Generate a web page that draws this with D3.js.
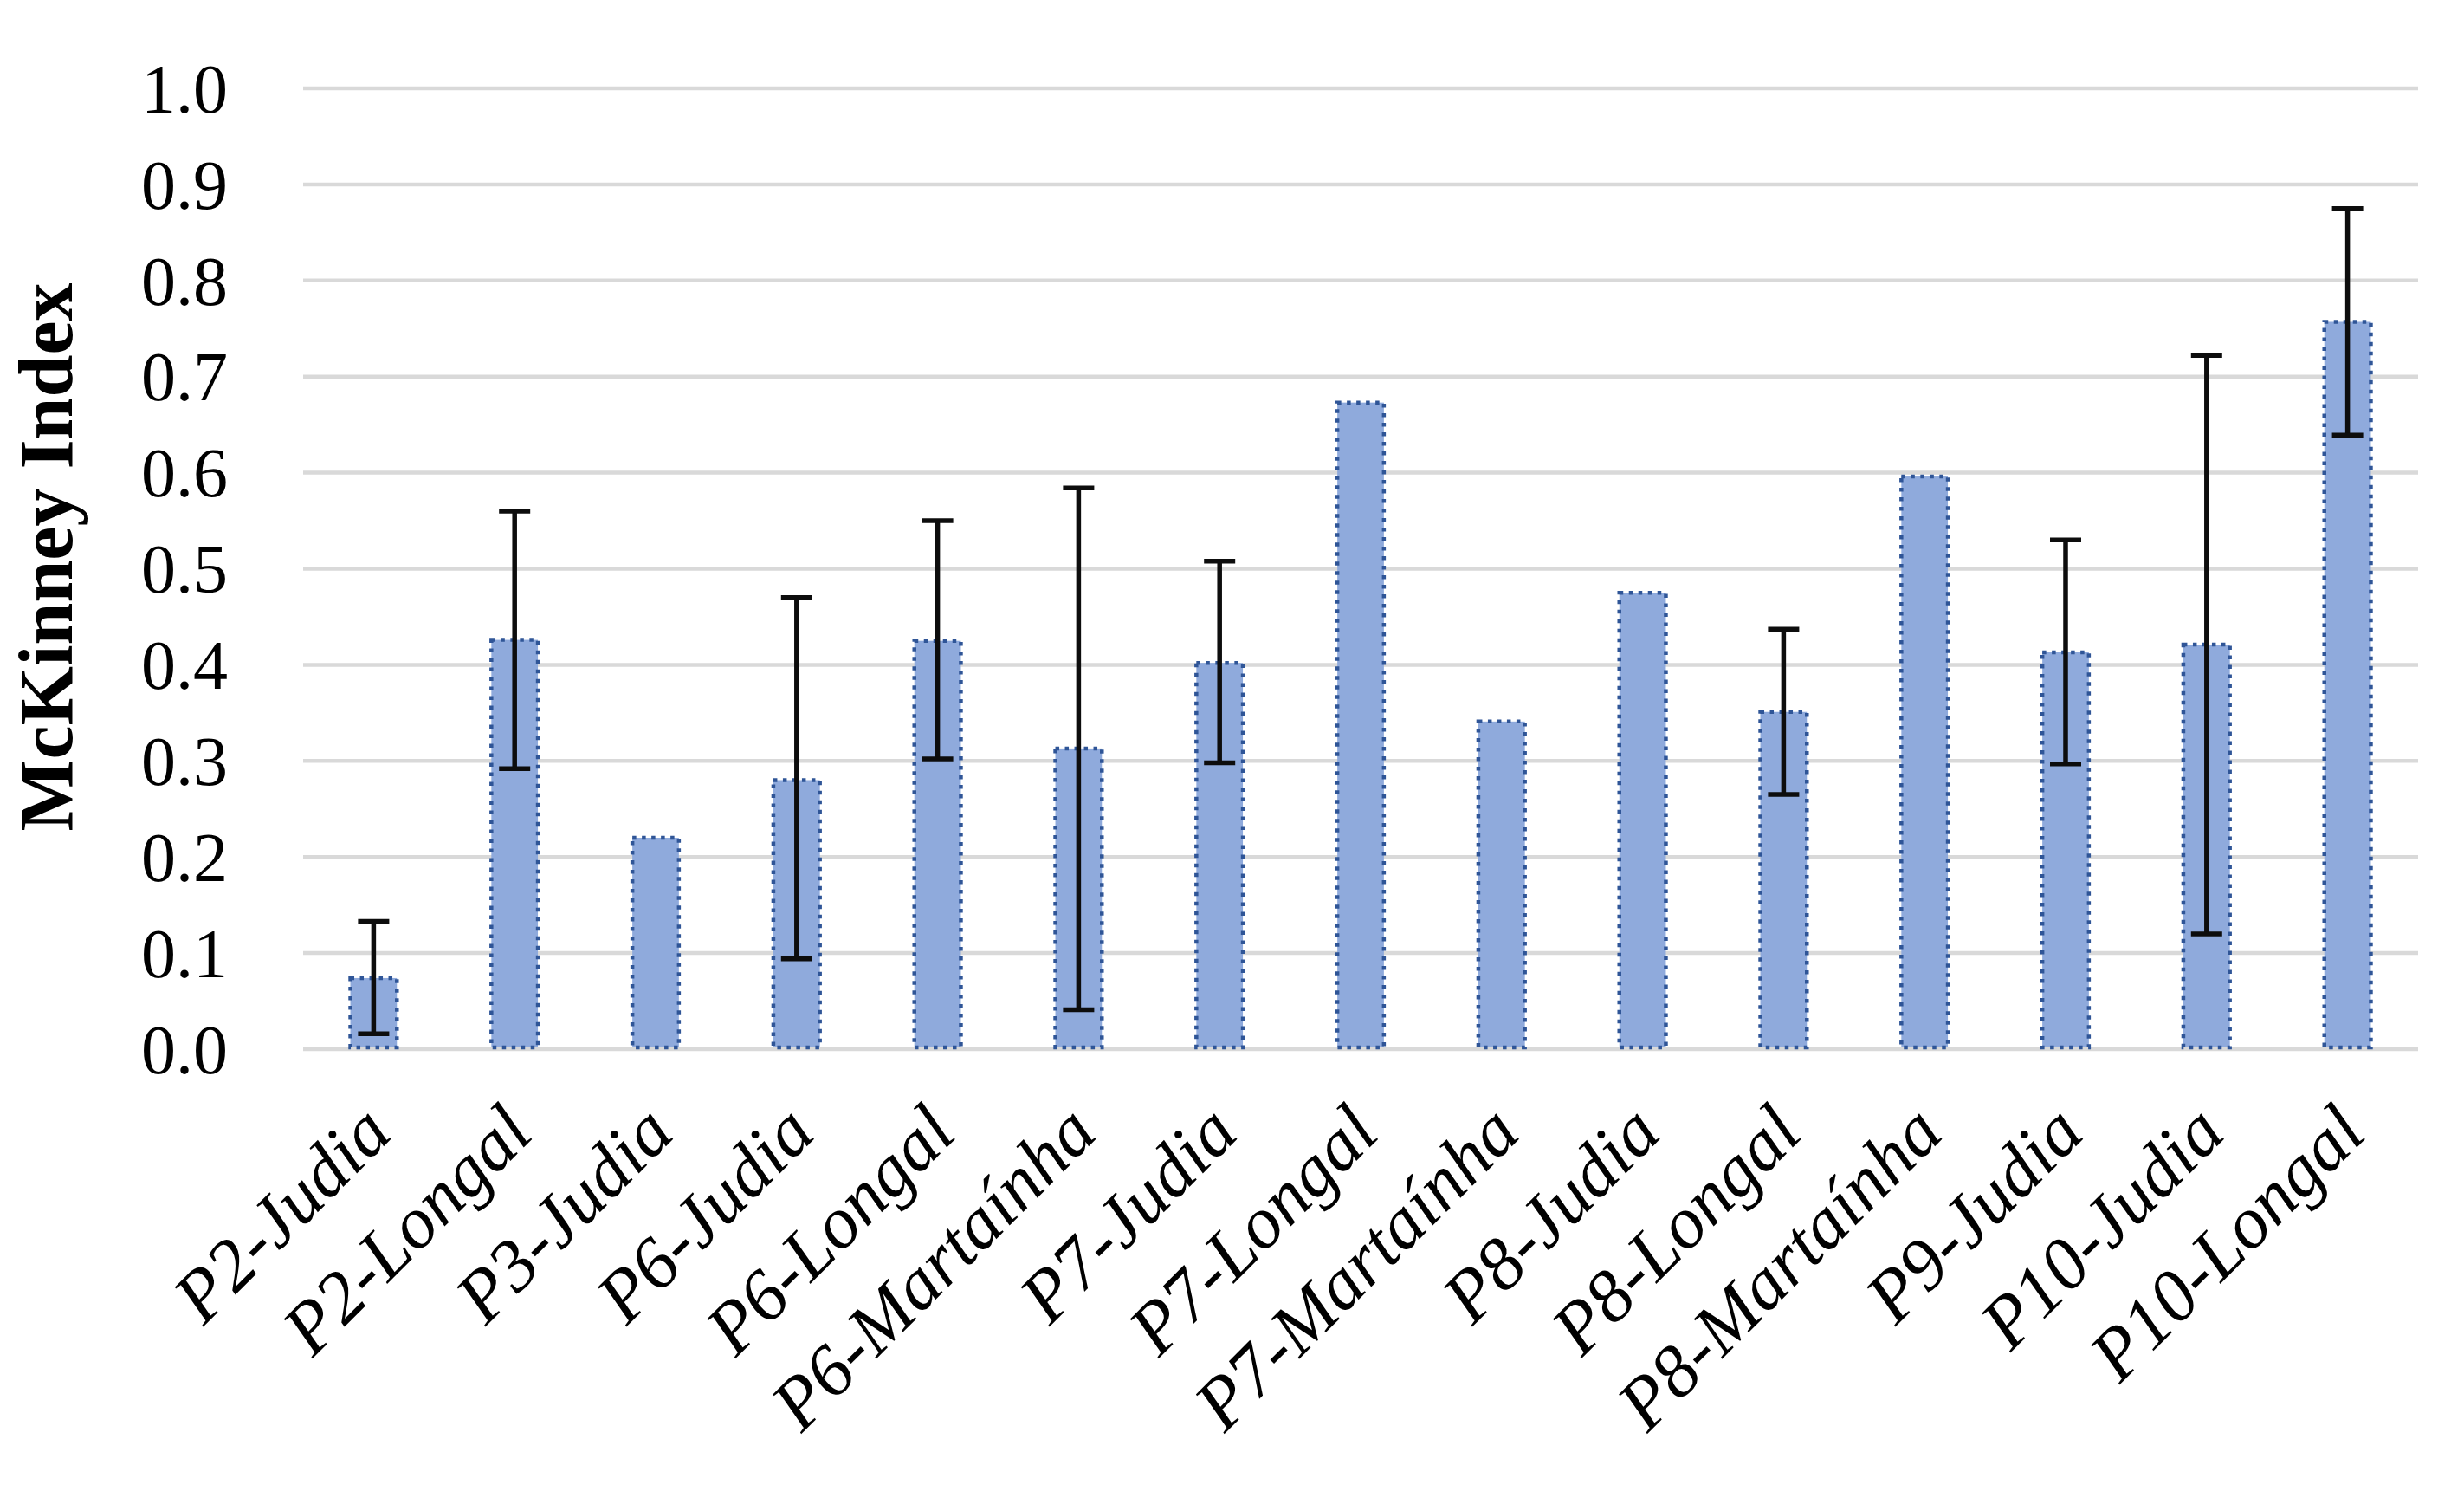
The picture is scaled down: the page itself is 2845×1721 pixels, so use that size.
<!DOCTYPE html>
<html>
<head>
<meta charset="utf-8">
<script src="https://cdn.jsdelivr.net/npm/d3@7"></script>
<style>
  html, body { margin: 0; padding: 0; background: #ffffff; }
  svg { display: block; }
</style>
</head>
<body>
<svg id="chart" width="2845" height="1721"></svg>
<script>
// ---- data ----
const categories = ["P2-Judia","P2-Longal","P3-Judia","P6-Judia","P6-Longal","P6-Martaínha","P7-Judia","P7-Longal","P7-Martaínha","P8-Judia","P8-Longal","P8-Martaínha","P9-Judia","P10-Judia","P10-Longal"];
const values   = [0.074, 0.426, 0.220, 0.280, 0.425, 0.313, 0.402, 0.673, 0.341, 0.475, 0.351, 0.596, 0.413, 0.421, 0.757];
// error bar bounds (null = no error bar)
const errLow   = [0.016, 0.292, null, 0.094, 0.302, 0.041, 0.298, null, null, null, 0.265, null, 0.297, 0.120, 0.639];
const errHigh  = [0.133, 0.560, null, 0.470, 0.550, 0.584, 0.508, null, null, null, 0.437, null, 0.530, 0.722, 0.875];
const yTicks   = [0, 0.1, 0.2, 0.3, 0.4, 0.5, 0.6, 0.7, 0.8, 0.9, 1.0];
const yTitle   = "McKinney Index";

// ---- layout ----
const svg = d3.select("#chart");
const plot = { left: 350, right: 2792, top: 102, bottom: 1211 };

const x = d3.scaleBand().domain(categories).range([plot.left, plot.right]).paddingInner(0).paddingOuter(0);
const y = d3.scaleLinear().domain([0, 1]).range([plot.bottom, plot.top]);

const barW = x.bandwidth() * 0.33;
const cx = d => x(d) + x.bandwidth() / 2;

// gridlines
svg.append("g").selectAll("line").data(yTicks).join("line")
  .attr("x1", plot.left).attr("x2", plot.right)
  .attr("y1", d => y(d)).attr("y2", d => y(d))
  .attr("stroke", "#d9d9d9").attr("stroke-width", 4.5);

// y axis labels
const yAxis = d3.axisLeft(y).tickValues(yTicks).tickFormat(d3.format(".1f")).tickSize(0).tickPadding(0);
const ya = svg.append("g").attr("transform", `translate(263,0)`).call(yAxis);
ya.select(".domain").remove();
ya.selectAll("text")
  .attr("font-family", "'Liberation Serif', 'DejaVu Serif', serif")
  .attr("font-size", 80).attr("fill", "#000").attr("dy", "0.34em");

// bars
const data = categories.map((c, i) => ({ c, v: values[i], lo: errLow[i], hi: errHigh[i] }));
svg.append("g").selectAll("rect").data(data).join("rect")
  .attr("x", d => cx(d.c) - barW / 2)
  .attr("y", d => y(d.v))
  .attr("width", barW)
  .attr("height", d => y(0) - y(d.v) - 2)
  .attr("fill", "#8faadc")
  .attr("stroke", "#2f5597")
  .attr("stroke-width", 4.5)
  .attr("stroke-dasharray", "4.5,6.5");

// error bars
const eb = svg.append("g").selectAll("g").data(data.filter(d => d.lo !== null)).join("g")
  .attr("stroke", "#0d0d0d").attr("stroke-width", 5.5);
eb.append("line")
  .attr("x1", d => cx(d.c)).attr("x2", d => cx(d.c))
  .attr("y1", d => y(d.lo)).attr("y2", d => y(d.hi));
eb.append("line")
  .attr("x1", d => cx(d.c) - 18).attr("x2", d => cx(d.c) + 18)
  .attr("y1", d => y(d.hi)).attr("y2", d => y(d.hi));
eb.append("line")
  .attr("x1", d => cx(d.c) - 18).attr("x2", d => cx(d.c) + 18)
  .attr("y1", d => y(d.lo)).attr("y2", d => y(d.lo));

// x labels
svg.append("g").selectAll("text").data(categories).join("text")
  .attr("transform", d => `translate(${cx(d) + 24},${plot.bottom + 100}) rotate(-45)`)
  .attr("text-anchor", "end")
  .attr("font-family", "'Liberation Serif', 'DejaVu Serif', serif")
  .attr("font-style", "italic")
  .attr("font-size", 85)
  .attr("fill", "#000")
  .text(d => d);

// y title
svg.append("text")
  .attr("transform", `translate(83,643) rotate(-90)`)
  .attr("text-anchor", "middle")
  .attr("font-family", "'Liberation Serif', 'DejaVu Serif', serif")
  .attr("font-weight", "bold")
  .attr("font-size", 88)
  .attr("fill", "#000")
  .text(yTitle);
</script>
</body>
</html>
